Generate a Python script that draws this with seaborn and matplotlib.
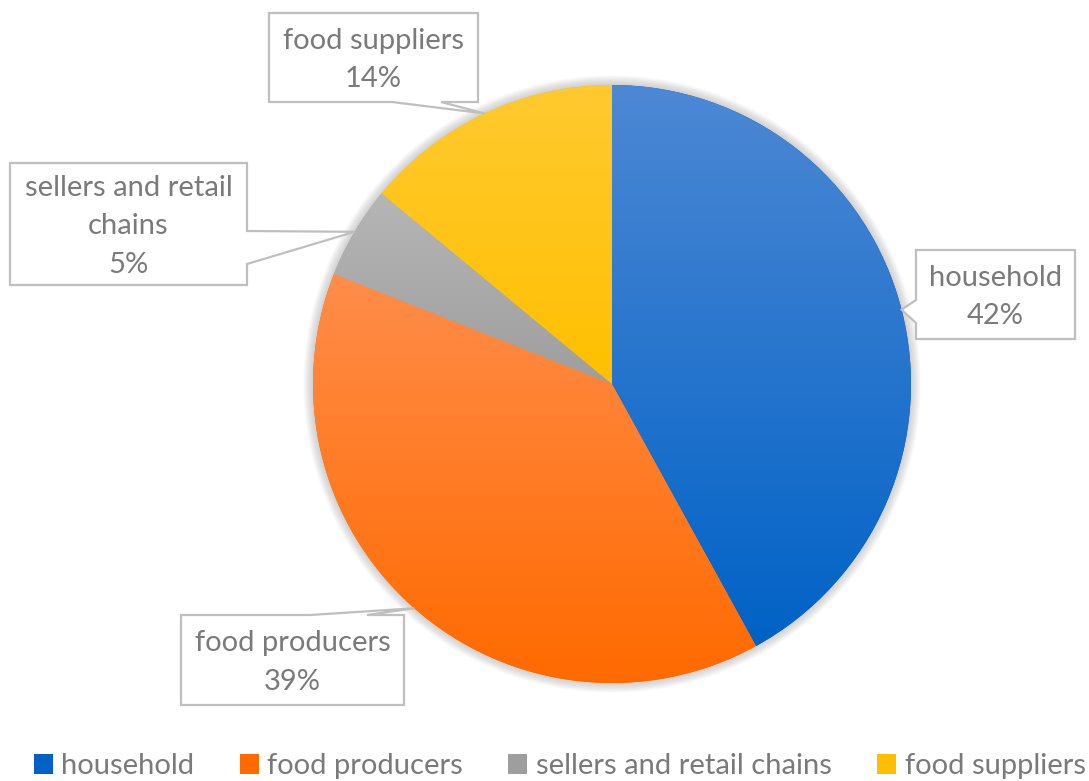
import numpy as np
import matplotlib
matplotlib.use("Agg")
import matplotlib.pyplot as plt
import seaborn as sns
from matplotlib.colors import LinearSegmentedColormap
from matplotlib.path import Path
from matplotlib.patches import PathPatch, Circle, Patch
from matplotlib.transforms import IdentityTransform

# Data
categories = ["household", "food producers", "sellers and retail chains", "food suppliers"]
shares = [42, 39, 5, 14]
callout_names = ["household", "food producers", "sellers and retail\nchains", "food suppliers"]

# Slice gradient colours (top -> bottom)
top_colors = ["#4d88d4", "#ff8d4a", "#b6b6b6", "#ffca30"]
bottom_colors = ["#0062c6", "#ff6a00", "#9e9e9e", "#ffbf00"]

sns.set_theme(style="white")
plt.rcParams["font.family"] = ["Lato", "DejaVu Sans"]

W, H, DPI = 1089, 781, 100
TEXT_COLOR = "#7a7a7a"
FS = 21

fig = plt.figure(figsize=(W / DPI, H / DPI), dpi=DPI)
fig.patch.set_facecolor("white")

# pie placement in pixels (y measured from top)
cx, cy, R = 612, 384, 299
PAD = 1.06
ax = fig.add_axes([(cx - R * PAD) / W, (H - cy - R * PAD) / H, 2 * R * PAD / W, 2 * R * PAD / H])

# soft glow/shadow around the pie
for i in range(14):
    ax.add_patch(Circle((0, 0), 1 + 0.0025 * i, color="0.3", alpha=0.02, lw=0, zorder=0))

wedges, _ = ax.pie(shares, startangle=90, counterclock=False, colors=bottom_colors,
                   radius=1, wedgeprops=dict(linewidth=0, zorder=1))

# vertical gradient fill clipped to each wedge
grad = np.linspace(0, 1, 256).reshape(-1, 1)
for w, c_top, c_bot in zip(wedges, top_colors, bottom_colors):
    ext = w.get_path().get_extents()
    cmap = LinearSegmentedColormap.from_list("slice", [c_bot, c_top])
    im = ax.imshow(grad, cmap=cmap, origin="lower", aspect="auto",
                   extent=[ext.x0, ext.x1, ext.y0, ext.y1],
                   interpolation="bilinear", zorder=2)
    im.set_clip_path(w)

ax.set_xlim(-PAD, PAD)
ax.set_ylim(-PAD, PAD)
ax.set_aspect("equal")
ax.set_axis_off()

# callout boxes: (left, top, right, bottom) in pixels from top, notch side and span
boxes = [
    ((916, 250, 1075, 339), "left", (300, 323)),
    ((181, 615, 404, 705), "top", (310, 367)),
    ((10, 163, 247, 285), "right", (231, 264)),
    ((269, 13, 478, 102), "bottom", (392, 441)),
]


def callout_vertices(box, side, span, tip):
    L, T, Rr, B = box
    a, b = span
    v = [(L, T)]
    if side == "top":
        v += [(a, T), tip, (b, T)]
    v.append((Rr, T))
    if side == "right":
        v += [(Rr, a), tip, (Rr, b)]
    v.append((Rr, B))
    if side == "bottom":
        v += [(b, B), tip, (a, B)]
    v.append((L, B))
    if side == "left":
        v += [(L, b), tip, (L, a)]
    v.append((L, T))
    return v


for w, name, share, (box, side, span) in zip(wedges, callout_names, shares, boxes):
    mid = np.deg2rad((w.theta1 + w.theta2) / 2)
    xd, yd = ax.transData.transform((np.cos(mid) * w.r, np.sin(mid) * w.r))
    tip = (xd, H - yd)
    verts = callout_vertices(box, side, span, tip)
    verts = [(x, H - y) for x, y in verts]
    codes = [Path.MOVETO] + [Path.LINETO] * (len(verts) - 2) + [Path.CLOSEPOLY]
    patch = PathPatch(Path(verts, codes), facecolor="white", edgecolor="#bfbfbf",
                      lw=1.6, transform=IdentityTransform(), zorder=3)
    fig.add_artist(patch)
    L, T, Rr, B = box
    fig.text((L + Rr) / 2 / W, 1 - (T + B) / 2 / H - 0.003, f"{name}\n{share}%",
             ha="center", va="center", color=TEXT_COLOR, fontsize=FS,
             linespacing=1.6, zorder=4)

handles = [Patch(facecolor=c, edgecolor="none") for c in bottom_colors]
fig.legend(handles, categories, loc="center", bbox_to_anchor=(0.514, 0.019),
           ncol=4, frameon=False, handlelength=0.65, handleheight=0.65,
           handletextpad=0.3, columnspacing=1.55, fontsize=FS, labelcolor=TEXT_COLOR,
           borderpad=0, borderaxespad=0)

fig.savefig("out.png", dpi=DPI, facecolor="white")
